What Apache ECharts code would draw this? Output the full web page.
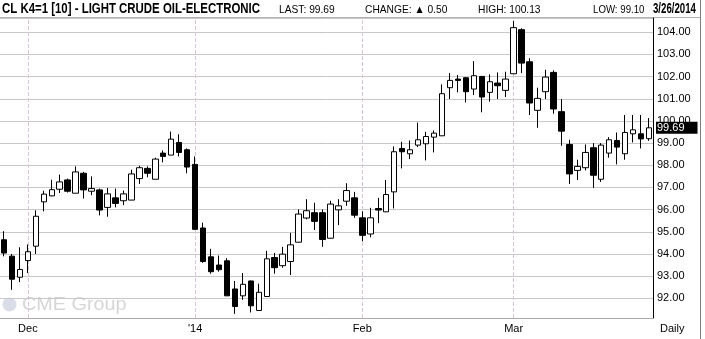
<!DOCTYPE html>
<html><head><meta charset="utf-8">
<script src="https://cdn.jsdelivr.net/npm/echarts@6/dist/echarts.min.js"></script>
<style>html,body{margin:0;padding:0;background:#fff}#c{width:705px;height:339px}</style>
</head><body><div id="c"></div>
<script>
const dates = [
'2013-11-26','2013-11-27','2013-11-29',
'2013-12-02','2013-12-03','2013-12-04','2013-12-05','2013-12-06','2013-12-09','2013-12-10','2013-12-11','2013-12-12','2013-12-13',
'2013-12-16','2013-12-17','2013-12-18','2013-12-19','2013-12-20','2013-12-23','2013-12-24','2013-12-26','2013-12-27','2013-12-30','2013-12-31',
'2014-01-02','2014-01-03','2014-01-06','2014-01-07','2014-01-08','2014-01-09','2014-01-10','2014-01-13','2014-01-14','2014-01-15','2014-01-16','2014-01-17',
'2014-01-21','2014-01-22','2014-01-23','2014-01-24','2014-01-27','2014-01-28','2014-01-29','2014-01-30','2014-01-31',
'2014-02-03','2014-02-04','2014-02-05','2014-02-06','2014-02-07','2014-02-10','2014-02-11','2014-02-12','2014-02-13','2014-02-14',
'2014-02-18','2014-02-19','2014-02-20','2014-02-21','2014-02-24','2014-02-25','2014-02-26','2014-02-27','2014-02-28',
'2014-03-03','2014-03-04','2014-03-05','2014-03-06','2014-03-07','2014-03-10','2014-03-11','2014-03-12','2014-03-13','2014-03-14',
'2014-03-17','2014-03-18','2014-03-19','2014-03-20','2014-03-21','2014-03-24','2014-03-25','2014-03-26'];
const opens = [94.64,93.9,92.95,93.7,94.35,96.35,96.62,96.92,97.34,96.74,97.64,96.83,96.89,96.1,96.53,96.4,96.43,97.4,97.86,97.37,98.55,98.46,99.03,98.7,
98.04,95.17,93.87,93.5,93.69,92.42,92.11,92.78,91.45,92.08,93.84,93.47,93.66,94.53,95.62,95.86,95.86,94.71,95.99,96.38,96.53,
95.63,94.9,96.05,95.9,96.8,98.76,98.52,98.91,98.97,99.27,99.33,101.5,101.89,101.95,101.44,102.01,101.29,101.71,101.38,
102.13,104.12,102.67,100.48,101.32,102.19,100.42,98.94,97.77,97.89,98.79,97.37,98.55,99.12,98.52,99.42,99.42,99.2];
const closes = [94.04,92.86,93.3,94.1,95.7,96.7,96.9,97.25,96.83,97.7,96.89,96.95,95.98,96.71,96.28,96.71,97.61,97.89,97.64,98.28,98.4,99.18,98.58,97.92,
95.11,93.66,93.2,93.29,92.11,91.63,92.63,91.66,92.27,93.78,93.38,93.99,94.41,95.8,95.95,95.47,94.65,96.25,96.17,96.86,95.75,
94.84,95.63,95.98,96.68,98.61,98.61,98.7,99.15,99.3,99.45,101.23,101.83,101.83,101.32,102.04,101.08,101.77,101.59,101.89,
104.21,102.61,100.81,101.02,101.98,100.54,99.54,97.61,97.95,98.58,97.55,98.91,99.15,98.82,99.48,99.6,99.19,99.69];
const lows = [93.89,92.38,92.73,93.14,94.0,95.92,96.6,96.75,96.77,96.74,96.5,96.65,95.74,95.68,96.1,96.2,96.43,97.16,97.46,97.37,98.13,98.46,98.4,97.64,
95.08,93.6,93.11,93.2,92.1,91.3,91.93,91.36,91.44,92.07,93.11,93.38,93.05,94.52,95.56,95.08,94.32,94.7,95.3,96.17,95.63,
94.57,94.75,95.39,95.89,96.05,97.86,98.28,98.82,98.22,98.58,99.32,100.99,101.29,100.84,101.17,100.39,100.87,100.99,101.08,
102.12,102.16,100.27,99.69,100.99,100.33,98.88,97.16,97.34,97.77,96.98,97.25,98.34,98.04,98.25,99.03,98.76,99.10];
const highs = [95.03,94.0,94.3,94.43,95.97,96.85,97.35,97.58,97.4,97.95,97.7,97.5,96.95,96.98,96.95,96.86,97.8,97.98,97.95,98.34,98.67,99.52,99.4,98.76,
98.4,95.41,94.23,93.93,93.81,92.78,93.14,92.8,92.66,94.14,94.05,94.32,94.95,96.01,96.47,96.31,96.01,96.4,96.47,97.19,96.8,
95.93,96.08,96.53,97.34,98.85,99.06,99.12,99.93,99.51,99.57,101.65,102.16,102.07,101.97,102.7,102.03,102.1,102.19,102.22,
104.51,104.18,102.83,101.5,102.31,102.28,100.99,99.15,98.25,98.94,99.0,99.0,99.27,99.48,100.27,100.27,100.27,100.13];
const monthStartIdx = [3, 24, 45, 64];
const monthLabels = ['Dec', "'14", 'Feb', 'Mar'];
const titleText = 'CL K4=1 [10] - LIGHT CRUDE OIL-ELECTRONIC';
const dateText = '3/26/2014';

const n = closes.length;
const last = closes[n-1];
const change = last - closes[n-2];
const candleData = dates.map((d,i)=>[opens[i], closes[i], lows[i], highs[i]]);
const FONT = 'Liberation Sans, Arial, sans-serif';

const chart = echarts.init(document.getElementById('c'), null, {renderer:'canvas'});
chart.setOption({
  animation: false,
  backgroundColor: '#fff',
  grid: {left: -3, right: 52, top: 18, bottom: 21, containLabel: false},
  xAxis: {
    type: 'category', data: dates, boundaryGap: true,
    axisLine: {show: true, lineStyle: {color: '#a8a8a8', width: 1}},
    axisTick: {show: false},
    splitLine: {show: false},
    axisLabel: {
      interval: (i) => monthStartIdx.indexOf(i) >= 0,
      formatter: (v, i) => { const k = monthStartIdx.indexOf(i); return k >= 0 ? monthLabels[k] : ''; },
      color: '#000', fontSize: 11, fontFamily: FONT, margin: 5
    }
  },
  yAxis: {
    type: 'value', position: 'right', min: 91.11, max: 104.645,
    splitNumber: 13, minInterval: 1, maxInterval: 1,
    axisLine: {show: true, onZero: false, lineStyle: {color: '#000', width: 1}},
    axisTick: {show: false},
    splitLine: {show: true, lineStyle: {color: '#c8c8c8', width: 1}},
    axisLabel: {
      showMinLabel: false, showMaxLabel: false,
      formatter: (v) => Math.abs(v - Math.round(v)) < 1e-6 ? v.toFixed(2) : '',
      color: '#000', fontSize: 11, fontFamily: FONT, margin: 4, align: 'left'
    }
  },
  series: [
    {
      type: 'line', data: [], z: 1, silent: true,
      markLine: {
        z: 1, silent: true, symbol: 'none', animation: false,
        label: {show: false},
        lineStyle: {color: '#d4c6d4', type: [4, 2], width: 1},
        data: monthStartIdx.map(i => ({xAxis: dates[i]}))
      }
    },
    {
      type: 'candlestick', data: candleData, z: 3, barWidth: 6,
      itemStyle: {color: '#fff', color0: '#000', borderColor: '#000', borderColor0: '#000', borderWidth: 1},
      markLine: {
        z: 10, silent: true, symbol: 'none', animation: false,
        lineStyle: {width: 1, color: 'rgba(0,0,0,0)'},
        label: {
          show: true, position: 'end', distance: 3,
          formatter: () => last.toFixed(2),
          color: '#fff', backgroundColor: '#000', fontSize: 11, fontFamily: FONT,
          padding: [1, 13, 0, 1], lineHeight: 11
        },
        data: [{yAxis: last}]
      }
    }
  ],
  graphic: [
    {type: 'text', x: 2, y: 2, scaleX: 0.816, style: {text: titleText, font: 'bold 14px ' + FONT, fill: '#000'}},
    {type: 'text', x: 279, y: 4, scaleX: 0.93, style: {text: 'LAST: ' + last.toFixed(2), font: '11px ' + FONT, fill: '#000'}},
    {type: 'text', x: 365, y: 4, scaleX: 0.93, style: {text: 'CHANGE: \u25B2 ' + change.toFixed(2), font: '11px ' + FONT, fill: '#000'}},
    {type: 'text', x: 478, y: 4, scaleX: 0.93, style: {text: 'HIGH: ' + highs[n-1].toFixed(2), font: '11px ' + FONT, fill: '#000'}},
    {type: 'text', x: 593, y: 4, scaleX: 0.88, style: {text: 'LOW: ' + lows[n-1].toFixed(2), font: '11px ' + FONT, fill: '#000'}},
    {type: 'text', x: 653, y: 2, scaleX: 0.69, style: {text: dateText, font: 'bold 14px ' + FONT, fill: '#000'}},
    {type: 'text', x: 660, y: 323, style: {text: 'Daily', font: '11px ' + FONT, fill: '#000'}},
    {type: 'circle', shape: {cx: 9.5, cy: 304.5, r: 7}, style: {fill: '#d8dde8'}, z: 0},
    {type: 'text', x: 22, y: 296, scaleX: 1.1, z: 0, style: {text: 'CME Group', font: '18px ' + FONT, fill: '#d6d6d6'}},
    {type: 'rect', shape: {x: 701, y: 0, width: 4, height: 339}, style: {fill: '#fff'}, z: 20},
    {type: 'line', shape: {x1: 700.5, y1: 0, x2: 700.5, y2: 339}, style: {stroke: '#808080', lineWidth: 1}, z: 21},
    {type: 'line', shape: {x1: 0, y1: 17.5, x2: 700, y2: 17.5}, style: {stroke: '#b0b0b0', lineWidth: 1}}
  ]
});
</script></body></html>
